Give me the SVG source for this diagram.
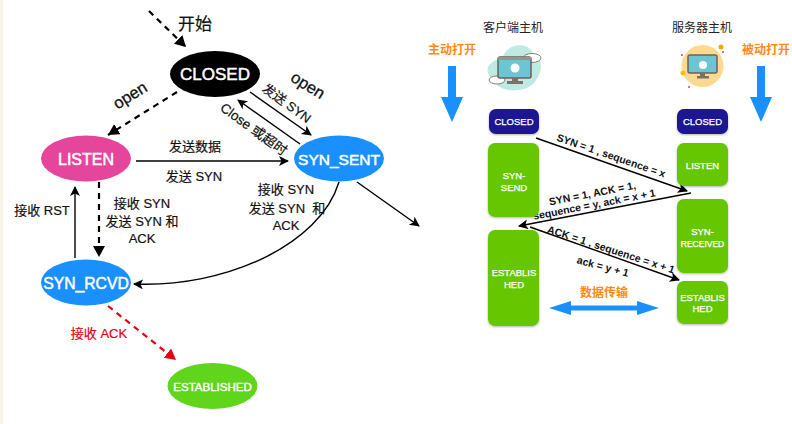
<svg xmlns="http://www.w3.org/2000/svg" width="792" height="424" viewBox="0 0 792 424">
<style>
text{font-family:"Liberation Sans","Noto Sans CJK SC",sans-serif;text-anchor:middle}
.n{font-size:16px;fill:#fff;stroke:#fff;stroke-width:.5}
.l{font-size:13px;fill:#111;stroke:#111;stroke-width:.2}
.op{font-size:16.500px;fill:#111;stroke:#111;stroke-width:.3}
.b{font-size:10.500px;font-weight:bold;fill:#111}
.o{font-size:12px;font-weight:bold;fill:#ff8a14}
.h{font-size:12px;fill:#222}
.w{font-size:9.500px;fill:#fff;stroke:#fff;stroke-width:.25}
.c{stroke:#000;fill:none;stroke-width:1.400}
.d{stroke-width:2.200;stroke-dasharray:6 5}
.g{fill:#66c700;filter:url(#s)}
</style>
<defs>
<marker id="a" markerUnits="userSpaceOnUse" markerWidth="12" markerHeight="12" refX="9" refY="5" orient="auto"><path d="M0 0L10 5L0 10L2.500 5Z" fill="#000"/></marker>
<marker id="ab" markerUnits="userSpaceOnUse" markerWidth="14" markerHeight="14" refX="11" refY="6" orient="auto"><path d="M0 0L11 6L0 12Z" fill="#000"/></marker>
<marker id="ar" markerUnits="userSpaceOnUse" markerWidth="14" markerHeight="14" refX="11" refY="6" orient="auto"><path d="M0 0L11 6L0 12Z" fill="#e60012"/></marker>
<filter id="s" x="-10%" y="-10%" width="120%" height="120%"><feDropShadow dx="0" dy="1" stdDeviation="1" flood-color="#000" flood-opacity=".3"/></filter>
</defs>
<rect width="792" height="424" fill="#fff"/>
<rect width="3" height="424" fill="#f9f5e9"/>
<g id="connectors">
<path class="c d" d="M149 11L186 47" marker-end="url(#ab)"/>
<path class="c d" d="M177 92L108 135" marker-end="url(#ab)"/>
<path class="c" d="M250 92L311 135" marker-end="url(#a)"/>
<path class="c" d="M300 144L238 100" marker-end="url(#a)"/>
<path class="c" d="M136 161L288 161" marker-end="url(#a)"/>
<path class="c" d="M75 258L75 187" marker-end="url(#a)"/>
<path class="c d" d="M99 182L99 257" marker-end="url(#ab)"/>
<path class="c" d="M339 182C320 245 225 288 134 284" marker-end="url(#a)"/>
<path class="c" d="M357 182L419 226" marker-end="url(#a)"/>
<path d="M108 306L176 360" class="d" fill="none" stroke="#e60012" stroke-width="2.200" marker-end="url(#ar)"/>
<path class="c" d="M536 138L687 191" marker-end="url(#a)"/>
<path class="c" d="M691 193L519 226" marker-end="url(#a)"/>
<path class="c" d="M530 227L679 280" marker-end="url(#a)"/>
</g>
<g id="closed"><ellipse cx="215" cy="74" rx="45" ry="23" fill="#000"/><text class="n" x="215" y="80" style="font-size:17px">CLOSED</text></g>
<g id="listen"><ellipse cx="86" cy="158.500" rx="45" ry="23" fill="#e5459a"/><text class="n" x="86" y="165">LISTEN</text></g>
<g id="syn_sent"><ellipse cx="339" cy="158.500" rx="45" ry="23" fill="#1a90ff"/><text class="n" x="339" y="165" style="font-size:15.500px">SYN_SENT</text></g>
<g id="syn_rcvd"><ellipse cx="86" cy="282.500" rx="45" ry="23" fill="#1a90ff"/><text class="n" x="86" y="289" style="font-size:15.700px">SYN_RCVD</text></g>
<g id="established"><ellipse cx="212.500" cy="386" rx="45" ry="23" fill="#5fd61c"/><text class="n" x="212.500" y="391" style="font-size:11.500px;stroke-width:.4">ESTABLISHED</text></g>
<g id="labels">
<text x="195" y="30" style="font-size:17px;fill:#111;stroke:#111;stroke-width:.2">开始</text>
<text class="op" x="133" y="100" transform="rotate(-32 133 100)">open</text>
<text class="op" x="305" y="90" transform="rotate(32 305 90)">open</text>
<text class="l" x="284" y="107" transform="rotate(36 284 107)">发送 SYN</text>
<text class="l" x="251" y="133" transform="rotate(36 251 133)" style="font-size:13.500px">Close 或超时</text>
<text class="l" x="195" y="151">发送数据</text>
<text class="l" x="194" y="181">发送 SYN</text>
<text class="l" x="42" y="215">接收 RST</text>
<text class="l" x="142" y="208">接收 SYN</text>
<text class="l" x="142" y="226">发送 SYN 和</text>
<text class="l" x="142" y="243">ACK</text>
<text class="l" x="286" y="194">接收 SYN</text>
<text class="l" x="287" y="213">发送 SYN&#160; 和</text>
<text class="l" x="286" y="230">ACK</text>
<text x="99" y="338" style="font-size:13px;fill:#e60012;stroke:#e60012;stroke-width:.2">接收 ACK</text>
<text class="h" x="513" y="32">客户端主机</text>
<text class="h" x="702" y="32">服务器主机</text>
<text class="o" x="452" y="54">主动打开</text>
<text class="o" x="766" y="54">被动打开</text>
<text class="o" x="604" y="297">数据传输</text>
<text class="b" x="610" y="159" transform="rotate(19 610 159)">SYN = 1 , sequence = x</text>
<text class="b" x="593" y="197" transform="rotate(-11 593 197)">SYN = 1, ACK = 1,</text>
<text class="b" x="595" y="208" transform="rotate(-11 595 208)">sequence = y, ack = x + 1</text>
<text class="b" x="610" y="253" transform="rotate(18 610 253)">ACK = 1 , sequence = x + 1</text>
<text class="b" x="602" y="270" transform="rotate(15 602 270)">ack = y + 1</text>
</g>
<g id="open-arrows" fill="#1a90ff">
<path d="M448 66H456V97H463L452 122L441 97H448Z"/>
<path d="M757 66H765V97H772L761 122L750 97H757Z"/>
<path d="M549 308L571 301V305.500H637V301L659 308L637 315V310.500H571V315Z"/>
</g>
<g id="client-icon">
<path d="M489 75C483 64 497 60 503 56C509 42 530 42 533 54C544 60 542 72 536 80C530 92 505 94 496 84Z" fill="#bfeae2"/>
<ellipse cx="532" cy="58" rx="9" ry="4.500" fill="#fff" stroke="#8a7f70"/>
<ellipse cx="497" cy="80" rx="8" ry="4" fill="#fff" stroke="#8a7f70"/>
<rect x="498" y="57" width="33" height="21" rx="2" fill="#6cc5d2" stroke="#6b6258" stroke-width="1.500"/>
<rect x="498" y="57" width="33" height="3" fill="#9a938a"/>
<circle cx="515" cy="68" r="4.500" fill="#fff"/>
<path d="M512 78h6v3h-6zM507 81h16v3h-16z" fill="#7a7268"/>
</g>
<g id="server-icon">
<circle cx="702.500" cy="66" r="21" fill="#fbd98f"/>
<circle cx="721" cy="47" r="2.500" fill="#f5a800"/>
<circle cx="683" cy="73" r="2.500" fill="#f5c000"/>
<circle cx="682" cy="55" r="1" fill="#e8385a"/><circle cx="723" cy="52" r="1" fill="#e8385a"/><circle cx="689" cy="87" r="1" fill="#e8385a"/>
<rect x="688" y="55" width="29" height="18" rx="2" fill="#6cc5d2" stroke="#6b6258" stroke-width="1.500"/>
<circle cx="703" cy="65" r="4" fill="#fff"/>
<path d="M700 73h5v3h-5zM697 76h12v2.500h-12z" fill="#7a7268"/>
</g>
<g id="client-states">
<rect x="489" y="109" width="50" height="25" rx="7" fill="#1c1693" filter="url(#s)"/><text class="w" x="514" y="125">CLOSED</text>
<rect class="g" x="488" y="143" width="51" height="74" rx="7"/><text class="w" x="514" y="179">SYN-</text><text class="w" x="514" y="191">SEND</text>
<rect class="g" x="488" y="230" width="51" height="96" rx="7"/><text class="w" x="514" y="276">ESTABLIS</text><text class="w" x="514" y="288">HED</text>
</g>
<g id="server-states">
<rect x="677" y="109" width="51" height="25" rx="7" fill="#1c1693" filter="url(#s)"/><text class="w" x="702.500" y="125">CLOSED</text>
<rect class="g" x="677" y="143" width="51" height="43" rx="7"/><text class="w" x="702.500" y="169">LISTEN</text>
<rect class="g" x="677" y="199" width="51" height="74" rx="7"/><text class="w" x="702.500" y="235">SYN-</text><text class="w" x="702.500" y="246.500" style="font-size:8.500px">RECEIVED</text>
<rect class="g" x="677" y="281" width="51" height="43" rx="7"/><text class="w" x="702.500" y="301">ESTABLIS</text><text class="w" x="702.500" y="312">HED</text>
</g>
</svg>
